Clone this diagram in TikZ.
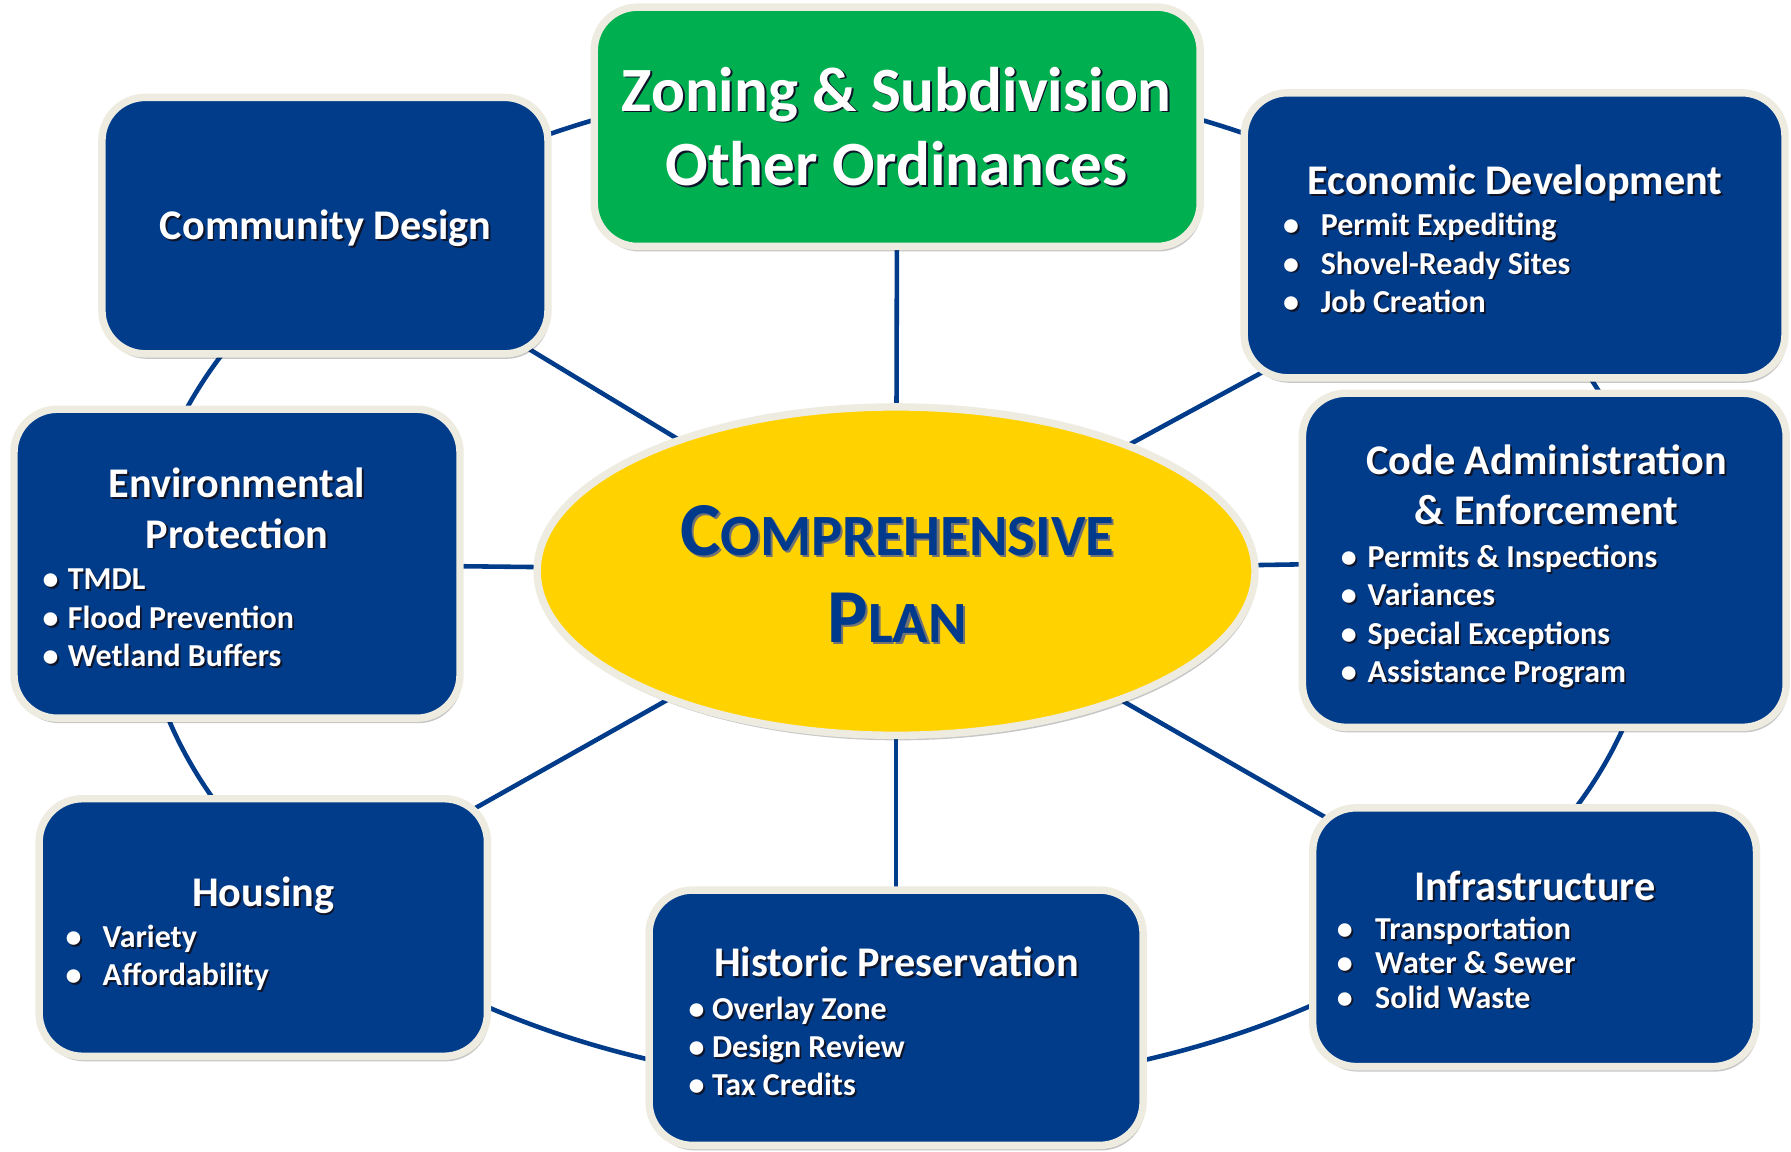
\documentclass[tikz,border=0pt]{standalone}
\usepackage{fontspec}
\setmainfont{Carlito}
\usetikzlibrary{shadows,backgrounds,shapes.geometric}
\definecolor{boxblue}{RGB}{0,60,138}
\definecolor{cream}{RGB}{238,236,225}
\definecolor{zgreen}{RGB}{0,176,80}
\definecolor{pyellow}{RGB}{255,210,0}
\definecolor{ptext}{RGB}{0,58,140}
\definecolor{tshadow}{RGB}{15,20,40}
\newcommand\shd[1]{\makebox[0pt][l]{\hspace{0.8pt}\raisebox{-0.8pt}{\textcolor{tshadow}{#1}}}#1}
\newcommand\pshd[1]{\makebox[0pt][l]{\hspace{1pt}\raisebox{-1pt}{\textcolor{black!55}{#1}}}#1}
\newcommand\bl[1]{\makebox[#1][l]{•}}
\tikzset{
  x=0.5pt, y=-0.5pt,
  box/.style={draw=cream, line width=3.25pt, rounded corners=19pt, fill=boxblue,
    inner sep=0pt, drop shadow={shadow xshift=0.8pt, shadow yshift=-2.2pt, opacity=0.22, fill=black}},
  zbox/.style={box, fill=zgreen},
  ttl/.style={anchor=base, inner sep=0pt, yshift=-1.25pt, text=white, font=\bfseries\fontsize{18.5}{22}\selectfont},
  bul/.style={anchor=base west, inner sep=0pt, yshift=-1.25pt, text=white, font=\bfseries\fontsize{14}{16.75}\selectfont},
  link/.style={draw=boxblue, line width=2pt},
}
\begin{document}
\begin{tikzpicture}
\useasboundingbox (0,0) rectangle (1568,1008.5);
% central ellipse
\node[ellipse, draw=cream, line width=3.25pt, fill=pyellow, inner sep=0pt,
  minimum width=314.25pt, minimum height=143.75pt,
  drop shadow={shadow xshift=0.8pt, shadow yshift=-2.2pt, opacity=0.22, fill=black}] (plan) at (784.5,500) {};
% boxes
\node[zbox, minimum width=265.25pt, minimum height=104.75pt] (zon) at (785.5,111) {};
\node[box, minimum width=195.25pt, minimum height=112.25pt] (cd) at (284.5,197.5) {};
\node[box, minimum width=236.75pt, minimum height=124.75pt] (ed) at (1326,206) {};
\node[box, minimum width=195.25pt, minimum height=135.25pt] (env) at (207.5,493.5) {};
\node[box, minimum width=211.75pt, minimum height=146.25pt] (code) at (1352,490.5) {};
\node[box, minimum width=196.25pt, minimum height=112.75pt] (hou) at (230.5,812) {};
\node[box, minimum width=216.25pt, minimum height=111.75pt] (his) at (784.5,891) {};
\node[box, minimum width=194.25pt, minimum height=113.25pt] (inf) at (1343.5,820.5) {};
% connectors
\begin{scope}[on background layer]
  \fill[white] (0,0) rectangle (1568,1008.5);
  \draw[link] ([xshift=0.75pt,yshift=-5pt]plan.center) ellipse [x radius=331.5pt, y radius=221pt];
  \foreach \n in {zon,cd,ed,env,code,hou,his,inf}
    \draw[link] (plan.center) -- (\n.center);
\end{scope}
% texts
\node[ttl] (zonT) at (785,94.8) {\fontsize{27.6}{32.75}\selectfont\begin{tabular}[t]{@{}c@{}}\shd{Zoning \& Subdivision}\\\shd{Other Ordinances}\end{tabular}};
\node[anchor=base, inner sep=0pt, yshift=-1.25pt, text=ptext, font=\bfseries\fontsize{33.4}{38.25}\selectfont] (planT) at (785.5,483.5)
  {\begin{tabular}[t]{@{}c@{}}\pshd{C{\fontsize{25.6}{30}\selectfont OMPREHENSIVE}}\\\pshd{P{\fontsize{25.6}{30}\selectfont LAN}}\end{tabular}};
\node[ttl] (cdT) at (285.2,207.6) {\shd{Community Design}};
\node[ttl] (edT) at (1326.3,167.6) {\shd{Economic Development}};
\node[bul] (edB) at (1123,204) {\begin{tabular}[t]{@{}l@{}}\shd{\bl{16.5pt}Permit Expediting}\\\shd{\bl{16.5pt}Shovel-Ready Sites}\\\shd{\bl{16.5pt}Job Creation}\end{tabular}};
\node[ttl] (envT) at (207.5,433.3) {\begin{tabular}[t]{@{}c@{}}\shd{Environmental}\\\shd{Protection}\end{tabular}};
\node[bul] (envB) at (37,514) {\begin{tabular}[t]{@{}l@{}}\shd{\bl{11pt}TMDL}\\\shd{\bl{11pt}Flood Prevention}\\\shd{\bl{11pt}Wetland Buffers}\end{tabular}};
\node[ttl] (codeT) at (1354,412.9) {\begin{tabular}[t]{@{}c@{}}\shd{Code Administration}\\\shd{\& Enforcement}\end{tabular}};
\node[bul] (codeB) at (1173.5,494.5) {\begin{tabular}[t]{@{}l@{}}\shd{\bl{11.75pt}Permits \& Inspections}\\\shd{\bl{11.75pt}Variances}\\\shd{\bl{11.75pt}Special Exceptions}\\\shd{\bl{11.75pt}Assistance Program}\end{tabular}};
\node[ttl] (houT) at (230.3,791.3) {\shd{Housing}};
\node[bul] (houB) at (57,827) {\begin{tabular}[t]{@{}l@{}}\shd{\bl{16.25pt}Variety}\\\shd{\bl{16.25pt}Affordability}\end{tabular}};
\node[ttl] (hisT) at (785,852.5) {\shd{Historic Preservation}};
\node[bul] (hisB) at (602.5,889.8) {\begin{tabular}[t]{@{}l@{}}\shd{\bl{10.25pt}Overlay Zone}\\\shd{\bl{10.25pt}Design Review}\\\shd{\bl{10.25pt}Tax Credits}\end{tabular}};
\node[ttl] (infT) at (1343.7,786) {\shd{Infrastructure}};
\node[bul, font=\bfseries\fontsize{14}{15}\selectfont] (infB) at (1170,820) {\begin{tabular}[t]{@{}l@{}}\shd{\bl{16.8pt}Transportation}\\\shd{\bl{16.8pt}Water \& Sewer}\\\shd{\bl{16.8pt}Solid Waste}\end{tabular}};
\end{tikzpicture}
\end{document}
